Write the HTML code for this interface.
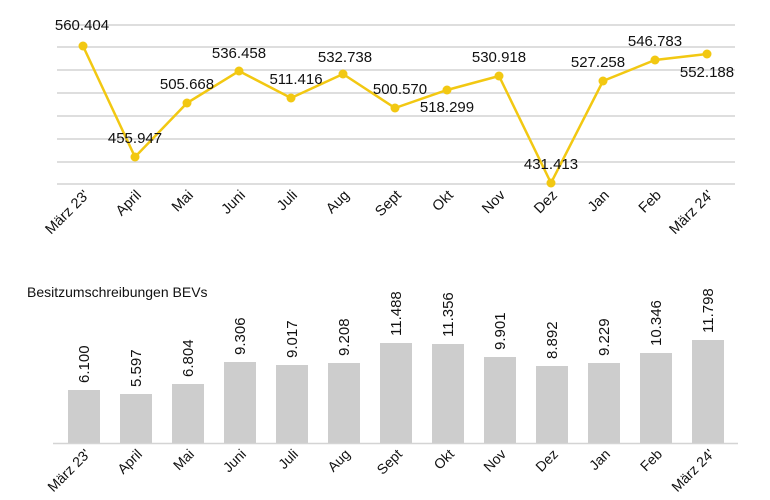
<!DOCTYPE html><html><head><meta charset="utf-8"><style>body{margin:0;background:#fff}svg{display:block;font-family:"Liberation Sans",sans-serif}</style></head><body>
<svg width="770" height="500" viewBox="0 0 770 500">
<g stroke="#d4d4d4" stroke-width="1.5">
<line x1="57" x2="735" y1="25" y2="25"/><line x1="57" x2="735" y1="47" y2="47"/><line x1="57" x2="735" y1="70" y2="70"/><line x1="57" x2="735" y1="93" y2="93"/><line x1="57" x2="735" y1="116" y2="116"/><line x1="57" x2="735" y1="139" y2="139"/><line x1="57" x2="735" y1="162" y2="162"/><line x1="57" x2="735" y1="184" y2="184"/>
</g>
<polyline fill="none" stroke="#f2c812" stroke-width="2.5" points="83,46 135,157 187,103 239,71 291,98 343,74 395,108 447,90 499,76 551,183 603,81 655,60 707,54"/>
<g fill="#f2c812"><circle cx="83" cy="46" r="4.5"/><circle cx="135" cy="157" r="4.5"/><circle cx="187" cy="103" r="4.5"/><circle cx="239" cy="71" r="4.5"/><circle cx="291" cy="98" r="4.5"/><circle cx="343" cy="74" r="4.5"/><circle cx="395" cy="108" r="4.5"/><circle cx="447" cy="90" r="4.5"/><circle cx="499" cy="76" r="4.5"/><circle cx="551" cy="183" r="4.5"/><circle cx="603" cy="81" r="4.5"/><circle cx="655" cy="60" r="4.5"/><circle cx="707" cy="54" r="4.5"/></g>
<g font-size="15" fill="#111" text-anchor="middle">
<text x="82" y="30">560.404</text><text x="135" y="143">455.947</text><text x="187" y="89">505.668</text><text x="239" y="58">536.458</text><text x="296" y="84">511.416</text><text x="345" y="62">532.738</text><text x="400" y="94">500.570</text><text x="447" y="112">518.299</text><text x="499" y="62">530.918</text><text x="551" y="169">431.413</text><text x="598" y="67">527.258</text><text x="655" y="46">546.783</text><text x="707" y="77">552.188</text>
</g>
<g font-size="14.5" fill="#111" text-anchor="end">
<text transform="translate(90,196) rotate(-45)">März 23'</text><text transform="translate(142,196) rotate(-45)">April</text><text transform="translate(194,196) rotate(-45)">Mai</text><text transform="translate(246,196) rotate(-45)">Juni</text><text transform="translate(298,196) rotate(-45)">Juli</text><text transform="translate(350,196) rotate(-45)">Aug</text><text transform="translate(402,196) rotate(-45)">Sept</text><text transform="translate(454,196) rotate(-45)">Okt</text><text transform="translate(506,196) rotate(-45)">Nov</text><text transform="translate(558,196) rotate(-45)">Dez</text><text transform="translate(610,196) rotate(-45)">Jan</text><text transform="translate(662,196) rotate(-45)">Feb</text><text transform="translate(714,196) rotate(-45)">März 24'</text>
</g>
<text x="27" y="297" font-size="14" fill="#111">Besitzumschreibungen BEVs</text>
<g fill="#cdcdcd">
<rect x="68" y="390" width="32" height="53"/><rect x="120" y="394" width="32" height="49"/><rect x="172" y="384" width="32" height="59"/><rect x="224" y="362" width="32" height="81"/><rect x="276" y="365" width="32" height="78"/><rect x="328" y="363" width="32" height="80"/><rect x="380" y="343" width="32" height="100"/><rect x="432" y="344" width="32" height="99"/><rect x="484" y="357" width="32" height="86"/><rect x="536" y="366" width="32" height="77"/><rect x="588" y="363" width="32" height="80"/><rect x="640" y="353" width="32" height="90"/><rect x="692" y="340" width="32" height="103"/>
</g>
<line x1="53" x2="738" y1="443.5" y2="443.5" stroke="#d4d4d4" stroke-width="1.5"/>
<g font-size="15" fill="#111">
<text transform="translate(89,383) rotate(-90)">6.100</text><text transform="translate(141,387) rotate(-90)">5.597</text><text transform="translate(193,377) rotate(-90)">6.804</text><text transform="translate(245,355) rotate(-90)">9.306</text><text transform="translate(297,358) rotate(-90)">9.017</text><text transform="translate(349,356) rotate(-90)">9.208</text><text transform="translate(401,336) rotate(-90)">11.488</text><text transform="translate(453,337) rotate(-90)">11.356</text><text transform="translate(505,350) rotate(-90)">9.901</text><text transform="translate(557,359) rotate(-90)">8.892</text><text transform="translate(609,356) rotate(-90)">9.229</text><text transform="translate(661,346) rotate(-90)">10.346</text><text transform="translate(713,333) rotate(-90)">11.798</text>
</g>
<g font-size="14" fill="#111" text-anchor="end">
<text transform="translate(91,455) rotate(-45)">März 23'</text><text transform="translate(143,455) rotate(-45)">April</text><text transform="translate(195,455) rotate(-45)">Mai</text><text transform="translate(247,455) rotate(-45)">Juni</text><text transform="translate(299,455) rotate(-45)">Juli</text><text transform="translate(351,455) rotate(-45)">Aug</text><text transform="translate(403,455) rotate(-45)">Sept</text><text transform="translate(455,455) rotate(-45)">Okt</text><text transform="translate(507,455) rotate(-45)">Nov</text><text transform="translate(559,455) rotate(-45)">Dez</text><text transform="translate(611,455) rotate(-45)">Jan</text><text transform="translate(663,455) rotate(-45)">Feb</text><text transform="translate(715,455) rotate(-45)">März 24'</text>
</g>
</svg></body></html>
